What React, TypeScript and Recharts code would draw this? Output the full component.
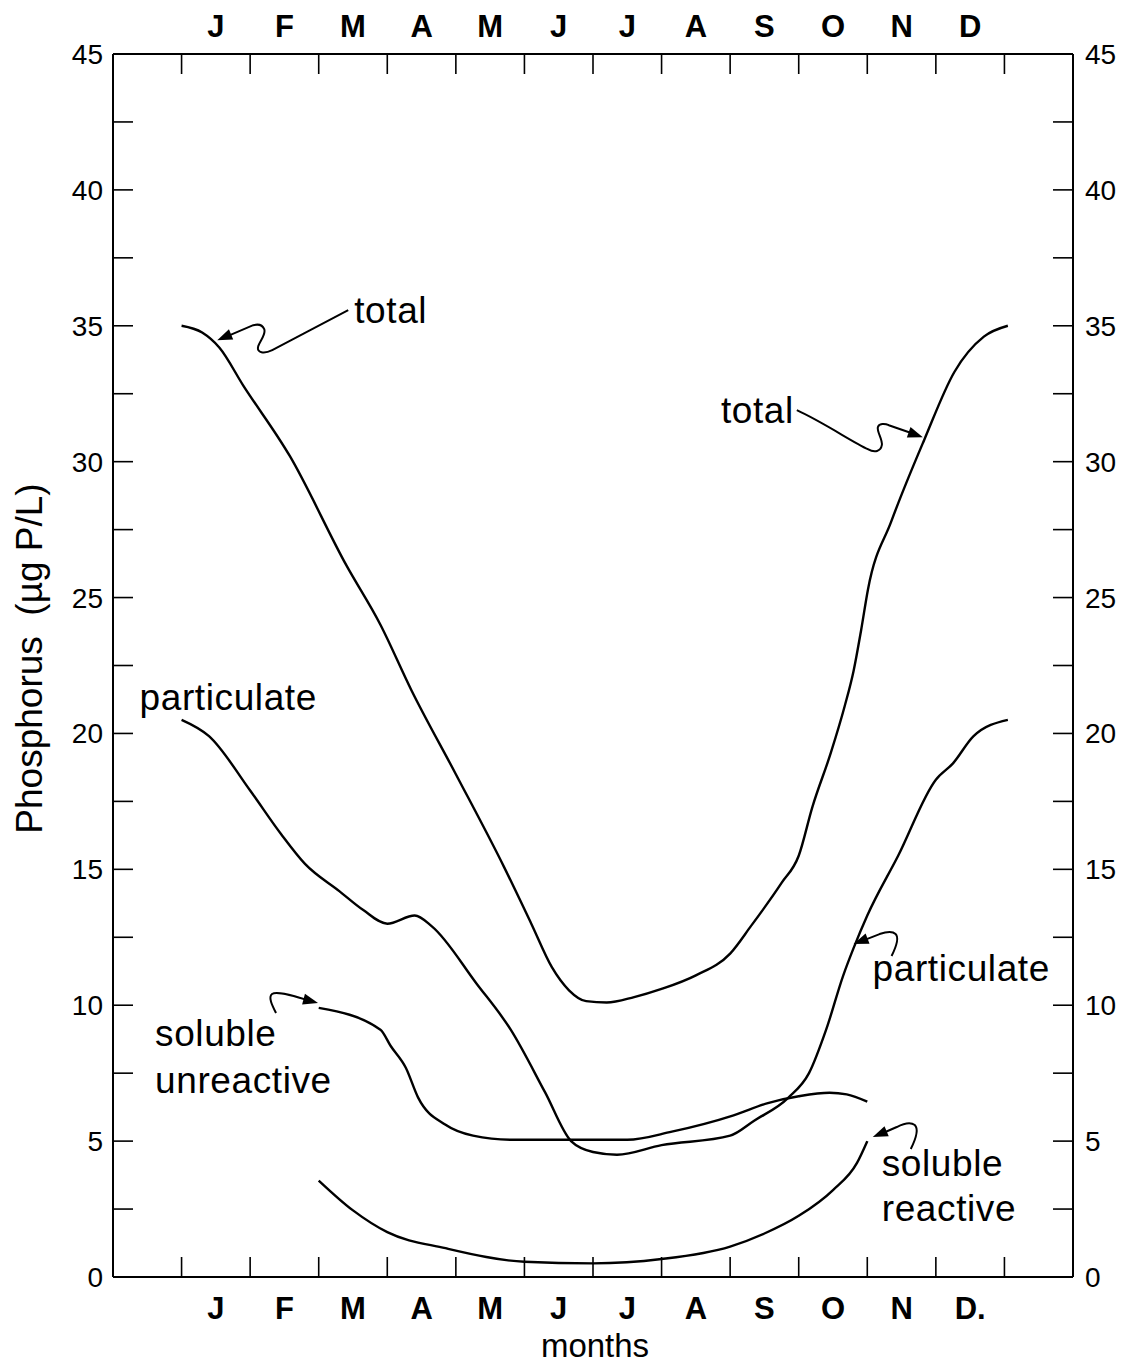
import React from 'react';
import { LineChart, Line, XAxis, YAxis, ReferenceDot, Label } from 'recharts';

const FONT = '"Liberation Sans", Arial, Helvetica, sans-serif';

// ---- axis ticks / labels ----
const monthTicks = [0, 0.5, 1, 1.5, 2, 2.5, 3, 3.5, 4, 4.5, 5, 5.5, 6, 6.5, 7, 7.5, 8, 8.5, 9, 9.5, 10, 10.5, 11, 11.5, 12];
const monthLettersTop = ['J', 'F', 'M', 'A', 'M', 'J', 'J', 'A', 'S', 'O', 'N', 'D'];
const monthLettersBottom = ['J', 'F', 'M', 'A', 'M', 'J', 'J', 'A', 'S', 'O', 'N', 'D.'];
const phosphorusTicks = [0, 2.5, 5, 7.5, 10, 12.5, 15, 17.5, 20, 22.5, 25, 27.5, 30, 32.5, 35, 37.5, 40, 42.5, 45];
const yAxisTitle = 'Phosphorus\u00A0\u00A0(µg P/L)';
const xAxisTitle = 'months';

// ---- series (month position, µg P/L) ----
const totalMonths = [0, 0.3, 0.55, 0.9, 1.58, 2.4, 2.9, 3.35, 4.0, 4.7, 5.1, 5.4, 5.65, 5.9, 6.2, 6.6, 7.0, 7.5, 8.0, 8.3, 8.75, 9.0, 9.2, 9.47, 9.67, 9.8, 9.91, 10.01, 10.35, 10.83, 11.27, 11.7, 12.05];
const totalValues = [35.0, 34.75, 34.2, 32.8, 30.2, 26.2, 24.0, 21.6, 18.5, 15.1, 13.0, 11.4, 10.55, 10.15, 10.1, 10.3, 10.6, 11.1, 11.9, 12.9, 14.5, 15.5, 17.3, 19.3, 21.0, 22.3, 23.8, 25.3, 27.8, 30.8, 33.3, 34.6, 35.0];

const particulateMonths = [0, 0.4, 1.0, 1.45, 1.8, 2.3, 2.65, 3.0, 3.4, 3.65, 4.3, 4.8, 5.3, 5.68, 6.0, 6.35, 7.0, 8.0, 8.35, 8.85, 9.15, 9.4, 9.65, 9.8, 10.0, 10.45, 11.0, 11.25, 11.55, 12.05];
const particulateValues = [20.5, 19.9, 17.9, 16.3, 15.2, 14.2, 13.5, 13.0, 13.3, 12.9, 10.8, 9.1, 6.8, 5.0, 4.6, 4.5, 4.85, 5.2, 5.75, 6.6, 7.5, 9.1, 11.1, 12.1, 13.3, 15.5, 18.3, 18.9, 19.9, 20.5];

const unreactiveMonths = [2.0, 2.9, 3.05, 3.27, 3.45, 3.85, 4.25, 4.8, 5.8, 6.5, 7.15, 8.05, 8.55, 9.0, 9.45, 9.7, 10.0];
const unreactiveValues = [9.9, 9.1, 8.5, 7.7, 6.6, 5.6, 5.2, 5.05, 5.05, 5.05, 5.35, 5.95, 6.4, 6.65, 6.78, 6.72, 6.45];

const reactiveMonths = [2.0, 2.5, 3.0, 3.85, 5.0, 6.0, 7.0, 8.0, 8.5, 9.0, 9.5, 9.85, 10.0];
const reactiveValues = [3.55, 2.45, 1.65, 1.06, 0.56, 0.5, 0.66, 1.12, 1.6, 2.25, 3.2, 4.2, 5.0];

// ---- annotation anchors (month, value) ----
const noteTotalLeft = [0.52, 34.47];
const noteTotalRight = [10.81, 30.9];
const noteParticulateLeft = [0, 20.5];
const noteParticulateRight = [9.8, 12.25];
const noteUnreactive = [1.99, 10.08];
const noteReactive = [10.08, 5.15];

const toData = (xs: number[], ys: number[]) => xs.map((m, i) => ({ m, v: ys[i] }));
const totalData = toData(totalMonths, totalValues);
const particulateData = toData(particulateMonths, particulateValues);
const unreactiveData = toData(unreactiveMonths, unreactiveValues);
const reactiveData = toData(reactiveMonths, reactiveValues);

const NOTE_FS = 37;

const Arrowhead = ({ fx, fy }: { fx: number; fy: number }) => {
  const ang = Math.atan2(-fy, -fx);
  const L = 15;
  const W = 5.5;
  const bx = -L * Math.cos(ang);
  const by = -L * Math.sin(ang);
  const px = -Math.sin(ang) * W;
  const py = Math.cos(ang) * W;
  return <polygon points={`0,0 ${bx + px},${by + py} ${bx - px},${by - py}`} fill="#000" />;
};

const NoteText = ({ x, y, anchor = 'start', children }: any) => (
  <text x={x} y={y + NOTE_FS * 0.35} textAnchor={anchor} fontSize={NOTE_FS} letterSpacing={0.6} fontFamily={FONT} fill="#000">
    {children}
  </text>
);

const noteShape = (kind: string) => (p: any) => {
  const { cx, cy } = p;
  let inner: any = null;
  if (kind === 'totalLeft') {
    inner = (
      <>
        <path d="M131,-30 L55,10 C47,14 39,13 41,6 C43,0 49,-6 47,-11 C45,-16 40,-16 36,-15 L8,-3" fill="none" stroke="#000" strokeWidth={2} />
        <Arrowhead fx={36} fy={-15} />
        <NoteText x={137} y={-30}>total</NoteText>
      </>
    );
  } else if (kind === 'totalRight') {
    inner = (
      <>
        <path d="M-126,-27 C-100,-15 -70,5 -55,12 C-48,16 -42,14 -41,8 C-40,2 -46,-5 -45,-10 C-44,-14 -38,-14 -34,-12 L-8,-3" fill="none" stroke="#000" strokeWidth={2} />
        <Arrowhead fx={-34} fy={-12} />
        <NoteText x={-129} y={-27} anchor="end">total</NoteText>
      </>
    );
  } else if (kind === 'particulateLeft') {
    inner = <NoteText x={-42} y={-23}>particulate</NoteText>;
  } else if (kind === 'particulateRight') {
    inner = (
      <>
        <path d="M38,12 C42,4 46,-6 42,-10 C39,-13 32,-12 26,-10 L8,-3" fill="none" stroke="#000" strokeWidth={2} />
        <Arrowhead fx={26} fy={-10} />
        <NoteText x={19} y={24}>particulate</NoteText>
      </>
    );
  } else if (kind === 'reactive') {
    inner = (
      <>
        <path d="M38,12 C43,2 46,-8 42,-12 C38,-15 30,-13 24,-10 L8,-3" fill="none" stroke="#000" strokeWidth={2} />
        <Arrowhead fx={24} fy={-10} />
        <NoteText x={9} y={26}>soluble</NoteText>
        <NoteText x={9} y={71}>reactive</NoteText>
      </>
    );
  } else if (kind === 'unreactive') {
    inner = (
      <>
        <path d="M-42,10 C-46,2 -50,-6 -46,-9 C-42,-12 -30,-9 -8,-2" fill="none" stroke="#000" strokeWidth={2} />
        <Arrowhead fx={-30} fy={-8} />
        <NoteText x={-163} y={30}>soluble</NoteText>
        <NoteText x={-163} y={77}>unreactive</NoteText>
      </>
    );
  }
  return <g transform={`translate(${cx},${cy})`}>{inner}</g>;
};

const TICK_LEN = 20;
const MONTH_FS = 31;

const BottomTick = (props: any) => {
  const { x, y, payload } = props;
  const v = payload.value;
  if (Number.isInteger(v)) {
    return <line x1={x} y1={y} x2={x} y2={y - TICK_LEN} stroke="#000" strokeWidth={1.6} />;
  }
  return (
    <text x={x} y={y + 42} textAnchor="middle" fontSize={MONTH_FS} fontWeight="bold" fontFamily={FONT} fill="#000">
      {monthLettersBottom[Math.floor(v)]}
    </text>
  );
};

const TopTick = (props: any) => {
  const { x, y, payload } = props;
  const v = payload.value;
  if (Number.isInteger(v)) {
    return <line x1={x} y1={y} x2={x} y2={y + TICK_LEN} stroke="#000" strokeWidth={1.6} />;
  }
  return (
    <text x={x} y={y - 17} textAnchor="middle" fontSize={MONTH_FS} fontWeight="bold" fontFamily={FONT} fill="#000">
      {monthLettersTop[Math.floor(v)]}
    </text>
  );
};

const LeftTick = (props: any) => {
  const { x, y, payload } = props;
  const v = payload.value;
  return (
    <g>
      <line x1={x} y1={y} x2={x + TICK_LEN} y2={y} stroke="#000" strokeWidth={1.6} />
      {v % 5 === 0 ? (
        <text x={x - 10} y={y + 10} textAnchor="end" fontSize={28} fontFamily={FONT} fill="#000">
          {v}
        </text>
      ) : null}
    </g>
  );
};

const RightTick = (props: any) => {
  const { x, y, payload } = props;
  const v = payload.value;
  return (
    <g>
      <line x1={x} y1={y} x2={x - TICK_LEN} y2={y} stroke="#000" strokeWidth={1.6} />
      {v % 5 === 0 ? (
        <text x={x + 12} y={y + 10} textAnchor="start" fontSize={28} fontFamily={FONT} fill="#000">
          {v}
        </text>
      ) : null}
    </g>
  );
};

const YTitle = (props: any) => {
  const vb = props.viewBox || {};
  const cx = 29;
  const cy = (vb.y ?? 54) + (vb.height ?? 1223) / 2 - 7;
  return (
    <text x={cx} y={cy} transform={`rotate(-90, ${cx}, ${cy})`} textAnchor="middle" dominantBaseline="central" fontSize={37} fontFamily={FONT} fill="#000">
      {yAxisTitle}
    </text>
  );
};

const XTitle = (props: any) => {
  const vb = props.viewBox || {};
  const cx = (vb.x ?? 113) + (vb.width ?? 960) / 2 + 2;
  const y = (vb.y ?? 1277) + 80;
  return (
    <text x={cx} y={y} textAnchor="middle" fontSize={33} fontFamily={FONT} fill="#000">
      {xAxisTitle}
    </text>
  );
};

const axisLine = { stroke: '#000', strokeWidth: 2 };

export default function App() {
  return (
    <div style={{ position: 'absolute', left: 0, top: 0, width: 1130, height: 1365, background: '#fff' }}>
      <LineChart width={1130} height={1365} margin={{ top: 0, right: 0, bottom: 0, left: 0 }}>
        <XAxis
          xAxisId="bottom"
          dataKey="m"
          type="number"
          domain={[-1, 13]}
          ticks={monthTicks}
          interval={0}
          allowDataOverflow
          orientation="bottom"
          height={88}
          axisLine={axisLine}
          tickLine={false}
          tickSize={0}
          tickMargin={0}
          tick={<BottomTick />}
        >
          <Label content={<XTitle />} />
        </XAxis>
        <XAxis
          xAxisId="top"
          dataKey="m"
          type="number"
          domain={[-1, 13]}
          ticks={monthTicks}
          interval={0}
          allowDataOverflow
          orientation="top"
          height={54}
          axisLine={axisLine}
          tickLine={false}
          tickSize={0}
          tickMargin={0}
          tick={<TopTick />}
        />
        <YAxis
          yAxisId="left"
          type="number"
          domain={[0, 45]}
          ticks={phosphorusTicks}
          interval={0}
          allowDataOverflow
          orientation="left"
          width={113}
          axisLine={axisLine}
          tickLine={false}
          tickSize={0}
          tickMargin={0}
          tick={<LeftTick />}
        >
          <Label content={<YTitle />} />
        </YAxis>
        <YAxis
          yAxisId="right"
          type="number"
          domain={[0, 45]}
          ticks={phosphorusTicks}
          interval={0}
          allowDataOverflow
          orientation="right"
          width={57}
          axisLine={axisLine}
          tickLine={false}
          tickSize={0}
          tickMargin={0}
          tick={<RightTick />}
        />
        <Line data={totalData} dataKey="v" xAxisId="bottom" yAxisId="left" type="monotone" dot={false} activeDot={false} stroke="#000" strokeWidth={2.4} isAnimationActive={false} />
        <Line data={particulateData} dataKey="v" xAxisId="bottom" yAxisId="left" type="monotone" dot={false} activeDot={false} stroke="#000" strokeWidth={2.4} isAnimationActive={false} />
        <Line data={unreactiveData} dataKey="v" xAxisId="bottom" yAxisId="left" type="monotone" dot={false} activeDot={false} stroke="#000" strokeWidth={2.4} isAnimationActive={false} />
        <Line data={reactiveData} dataKey="v" xAxisId="bottom" yAxisId="left" type="monotone" dot={false} activeDot={false} stroke="#000" strokeWidth={2.4} isAnimationActive={false} />
        <ReferenceDot xAxisId="bottom" yAxisId="left" x={noteTotalLeft[0]} y={noteTotalLeft[1]} r={0} ifOverflow="visible" shape={noteShape('totalLeft')} />
        <ReferenceDot xAxisId="bottom" yAxisId="left" x={noteTotalRight[0]} y={noteTotalRight[1]} r={0} ifOverflow="visible" shape={noteShape('totalRight')} />
        <ReferenceDot xAxisId="bottom" yAxisId="left" x={noteParticulateLeft[0]} y={noteParticulateLeft[1]} r={0} ifOverflow="visible" shape={noteShape('particulateLeft')} />
        <ReferenceDot xAxisId="bottom" yAxisId="left" x={noteParticulateRight[0]} y={noteParticulateRight[1]} r={0} ifOverflow="visible" shape={noteShape('particulateRight')} />
        <ReferenceDot xAxisId="bottom" yAxisId="left" x={noteUnreactive[0]} y={noteUnreactive[1]} r={0} ifOverflow="visible" shape={noteShape('unreactive')} />
        <ReferenceDot xAxisId="bottom" yAxisId="left" x={noteReactive[0]} y={noteReactive[1]} r={0} ifOverflow="visible" shape={noteShape('reactive')} />
      </LineChart>
    </div>
  );
}
